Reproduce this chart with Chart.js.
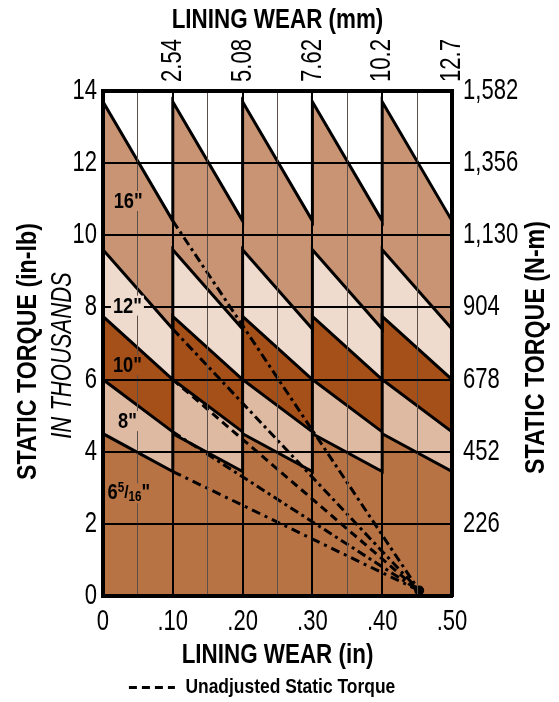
<!DOCTYPE html>
<html>
<head>
<meta charset="utf-8">
<script src="https://cdn.jsdelivr.net/npm/chart.js@4.4.0/dist/chart.umd.min.js"></script>
<style>
  html, body { margin: 0; padding: 0; background: #fff; }
</style>
</head>
<body>
<canvas id="torqueChart" width="559" height="702"></canvas>
<script>
// brake sizes, bottom band first (the filler paints the last dataset first)
const sizes = ['6 5/16"', '8"', '10"', '12"', '16"'];
// static torque (thousands of in-lb) right after an adjustment, and just before the next one
const torqueAfterAdjust = [4.5, 6.0, 7.75, 9.6, 13.7];
const torqueBeforeAdjust = [3.45, 4.55, 6.0, 7.4, 10.4];
// lining wear (in) where the self adjuster takes up the slack
const adjustPoints = [0, 0.1, 0.2, 0.3, 0.4, 0.5];

// unadjusted torque: from the first adjustment point down to where it runs out
const unadjustedStartX = [0.1, 0.1, 0.1, 0.1, 0.1];
const unadjustedEndX = [0.453, 0.453, 0.453, 0.453, 0.453];
const unadjustedEndY = [0.15, 0.15, 0.15, 0.15, 0.15];

// axis ticks
const xTickValues = [0, 0.1, 0.2, 0.3, 0.4, 0.5];
const xTickLabels = ['0', '.10', '.20', '.30', '.40', '.50'];
const mmTickValues = [2.54, 5.08, 7.62, 10.16, 12.7];
const mmTickLabels = ['2.54', '5.08', '7.62', '10.2', '12.7'];
const yTickValues = [0, 2, 4, 6, 8, 10, 12, 14];
const nmTickValues = [226, 452, 678, 904, 1130, 1356, 1582];
const nmTickLabels = ['226', '452', '678', '904', '1,130', '1,356', '1,582'];

const bandColors = ['#B87345', '#DFBAA3', '#A54F19', '#EEDBCE', '#C99473'];
const dashPatterns = [[9, 5, 3, 5], [9, 4, 3, 4], [8, 5], [9, 4, 3, 4], [9, 4, 3, 4]];

const FONT = "'Liberation Sans', Arial, sans-serif";

function sawtooth(i) {
    const pts = [];
    for (let k = 0; k < adjustPoints.length - 1; k++) {
        pts.push({ x: adjustPoints[k], y: torqueAfterAdjust[i] });
        pts.push({ x: adjustPoints[k + 1], y: torqueBeforeAdjust[i] });
    }
    return pts;
}

const isMajor = (v) => Math.abs(v * 10 - Math.round(v * 10)) < 1e-6;

const datasets = [];
sizes.forEach((s, i) => {
    datasets.push({
        label: s,
        data: sawtooth(i),
        borderColor: '#000',
        borderWidth: 3,
        backgroundColor: bandColors[i],
        fill: 'origin',
        pointRadius: 0,
        tension: 0
    });
});
sizes.forEach((s, i) => {
    datasets.push({
        label: 'Unadjusted ' + s,
        data: [
            { x: unadjustedStartX[i], y: torqueBeforeAdjust[i] },
            { x: unadjustedEndX[i], y: unadjustedEndY[i] }
        ],
        borderColor: '#000',
        borderWidth: 3,
        borderDash: dashPatterns[i],
        fill: false,
        pointRadius: 0
    });
});
// where the unadjusted lines meet
datasets.push({
    label: 'end point',
    data: [{ x: unadjustedEndX[0], y: unadjustedEndY[0] }],
    showLine: false,
    pointRadius: 5,
    pointBackgroundColor: '#000',
    pointBorderWidth: 0
});

// the original uses a condensed face, so squeeze every text run horizontally
const narrowText = {
    id: 'narrowText',
    beforeInit(chart) {
        const ctx = chart.ctx;
        const fill = ctx.fillText;
        const measure = ctx.measureText;
        const squeeze = (c) => /bold/.test(c.font) ? 0.83 : 0.76;
        ctx.fillText = function (text, x, y) {
            const k = squeeze(this);
            this.save();
            this.translate(x, y);
            this.scale(k, 1);
            fill.call(this, text, 0, 0);
            this.restore();
        };
        ctx.measureText = function (text) {
            const m = measure.call(this, text);
            return {
                width: m.width * squeeze(this),
                actualBoundingBoxAscent: m.actualBoundingBoxAscent,
                actualBoundingBoxDescent: m.actualBoundingBoxDescent
            };
        };
    }
};

// size labels sitting inside their bands
const sizeLabelX = [0.037, 0.035, 0.035, 0.035, 0.036];
const sizeLabelY = [2.85, 4.85, 6.4, 8.05, 10.95];

const sizeLabels = {
    id: 'sizeLabels',
    afterDraw(chart) {
        const { ctx } = chart;
        const xs = chart.scales.x, ys = chart.scales.y;
        ctx.save();
        ctx.textBaseline = 'middle';
        sizes.forEach((s, i) => {
            const px = xs.getPixelForValue(sizeLabelX[i]);
            const py = ys.getPixelForValue(sizeLabelY[i]);
            if (i === 0) {
                // 6 5/16" with a small fraction
                const parts = [
                    { t: '6', f: 'bold 22px ' + FONT, dy: 0 },
                    { t: '5', f: 'bold 14px ' + FONT, dy: -5 },
                    { t: '/', f: 'bold 19px ' + FONT, dy: 0 },
                    { t: '16', f: 'bold 14px ' + FONT, dy: 4 },
                    { t: '"', f: 'bold 22px ' + FONT, dy: 0 }
                ];
                let w = 0;
                parts.forEach(p => { ctx.font = p.f; p.w = ctx.measureText(p.t).width; w += p.w; });
                let cx = px - w / 2;
                ctx.fillStyle = bandColors[i];
                ctx.fillRect(cx - 2, py - 10, w + 4, 20);
                ctx.fillStyle = '#000';
                ctx.textAlign = 'left';
                parts.forEach(p => { ctx.font = p.f; ctx.fillText(p.t, cx, py + p.dy); cx += p.w; });
            } else {
                ctx.font = 'bold 22px ' + FONT;
                const w = ctx.measureText(s).width;
                ctx.fillStyle = bandColors[i];
                ctx.fillRect(px - w / 2 - 2, py - 10, w + 4, 20);
                ctx.fillStyle = '#000';
                ctx.textAlign = 'center';
                ctx.fillText(s, px, py + 1);
            }
        });
        ctx.restore();
    }
};

// vertical titles reading bottom to top on both sides
const sideTitles = {
    id: 'sideTitles',
    afterDraw(chart) {
        const { ctx, chartArea } = chart;
        const midY = (chartArea.top + chartArea.bottom) / 2;
        const put = (text, x, y, font) => {
            ctx.save();
            ctx.translate(x, y);
            ctx.rotate(-Math.PI / 2);
            ctx.font = font;
            ctx.fillStyle = '#000';
            ctx.textAlign = 'center';
            ctx.textBaseline = 'middle';
            ctx.fillText(text, 0, 0);
            ctx.restore();
        };
        put('STATIC TORQUE (in-lb)', 28, midY + 8, 'bold 28px ' + FONT);
        put('IN THOUSANDS', 63, midY + 12, 'italic 29px ' + FONT);
        put('STATIC TORQUE (N-m)', 536, midY + 4, 'bold 28px ' + FONT);
    }
};

const tickFont = { family: FONT, size: 29 };
const titleFont = { family: FONT, size: 27, weight: 'bold' };

new Chart(document.getElementById('torqueChart'), {
    type: 'line',
    data: { datasets },
    options: {
        responsive: false,
        animation: false,
        devicePixelRatio: 1,
        layout: { padding: { top: 0, left: 0, right: 0, bottom: -6 } },
        plugins: {
            filler: { drawTime: 'beforeDatasetsDraw' },
            tooltip: { enabled: false },
            legend: {
                position: 'bottom',
                labels: {
                    usePointStyle: true,
                    pointStyle: 'line',
                    pointStyleWidth: 46,
                    padding: 4,
                    color: '#000',
                    font: { family: FONT, size: 21, weight: 'bold' },
                    // trailing em spaces nudge the centred entry left, as in the original
                    generateLabels: () => [{
                        text: 'Unadjusted Static Torque\u2003\u2003',
                        pointStyle: 'line',
                        lineDash: [8, 5],
                        lineWidth: 3,
                        strokeStyle: '#000',
                        fillStyle: '#000',
                        fontColor: '#000',
                        hidden: false
                    }]
                }
            }
        },
        scales: {
            x: {
                type: 'linear',
                position: 'bottom',
                min: 0,
                max: 0.5,
                afterFit: s => { s.height = 77; },
                ticks: {
                    stepSize: 0.05,
                    maxTicksLimit: 20,
                    autoSkip: false,
                    maxRotation: 0,
                    padding: 9,
                    color: '#000',
                    font: tickFont,
                    callback: v => {
                        const k = xTickValues.findIndex(t => Math.abs(t - v) < 1e-6);
                        return k >= 0 ? xTickLabels[k] : '';
                    }
                },
                grid: {
                    z: 1,
                    drawTicks: false,
                    color: c => isMajor(c.tick.value) ? '#000' : '#5a5049',
                    lineWidth: c => isMajor(c.tick.value) ? 2 : 1
                },
                border: { z: 2, width: 4, color: '#000' },
                title: { display: true, text: 'LINING WEAR (in)', color: '#000', font: titleFont, padding: { top: 0, bottom: 1 } }
            },
            xTop: {
                type: 'linear',
                position: 'top',
                min: 0,
                max: 12.7,
                afterBuildTicks: s => { s.ticks = mmTickValues.map(v => ({ value: v })); },
                afterFit: s => { s.height = 91; },
                ticks: {
                    autoSkip: false,
                    minRotation: 90,
                    maxRotation: 90,
                    padding: 9,
                    labelOffset: 35,
                    color: '#000',
                    font: tickFont,
                    callback: v => mmTickLabels[mmTickValues.indexOf(v)]
                },
                grid: { display: false, drawTicks: false },
                border: { z: 2, width: 4, color: '#000' },
                title: { display: true, text: 'LINING WEAR (mm)', color: '#000', font: titleFont, padding: { top: 4, bottom: 0 } }
            },
            y: {
                type: 'linear',
                position: 'left',
                min: 0,
                max: 14,
                afterFit: s => { s.width = 103; },
                ticks: {
                    stepSize: 1,
                    maxTicksLimit: 20,
                    padding: 6,
                    color: '#000',
                    font: tickFont,
                    callback: v => yTickValues.includes(v) ? String(v) : ''
                },
                grid: {
                    z: 1,
                    drawTicks: false,
                    color: c => c.tick.value % 2 === 0 ? '#000' : '#4a4440',
                    lineWidth: c => c.tick.value % 2 === 0 ? 2 : 1
                },
                border: { z: 2, width: 4, color: '#000' }
            },
            y2: {
                type: 'linear',
                position: 'right',
                min: 0,
                max: 1582,
                afterBuildTicks: s => { s.ticks = nmTickValues.map(v => ({ value: v })); },
                afterFit: s => { s.width = 107; },
                ticks: {
                    padding: 11,
                    color: '#000',
                    font: tickFont,
                    callback: v => nmTickLabels[nmTickValues.indexOf(v)]
                },
                grid: { display: false, drawTicks: false },
                border: { z: 2, width: 4, color: '#000' }
            }
        }
    },
    plugins: [narrowText, sizeLabels, sideTitles]
});
</script>
</body>
</html>
